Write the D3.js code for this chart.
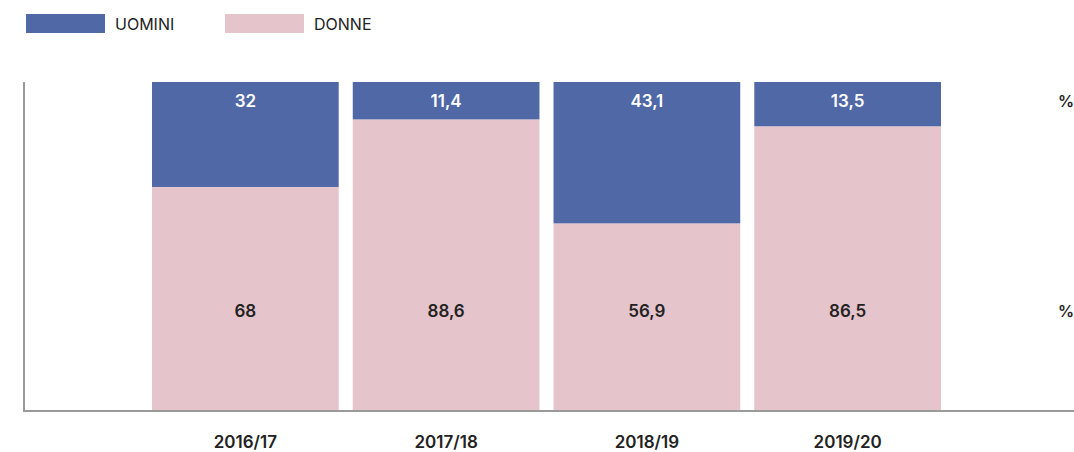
<!DOCTYPE html>
<html>
<head>
<meta charset="utf-8">
<script src="https://cdn.jsdelivr.net/npm/d3@7"></script>
<style>
html,body{margin:0;padding:0;background:#fff;}
svg{display:block;font-family:Inter,"Noto Sans",sans-serif;}
</style>
</head>
<body>
<svg id="chart" width="1074" height="452"></svg>
<script>
const categories = ["2016/17","2017/18","2018/19","2019/20"];
const uomini = [32, 11.4, 43.1, 13.5];
const donne = [68, 88.6, 56.9, 86.5];
const seriesNames = ["UOMINI","DONNE"];
const colors = ["#5068a6","#e5c4cc"];

const svg = d3.select("#chart");
const fmt = v => String(v).replace(".", ",");

const x = d3.scaleBand().domain(categories).range([152, 941]).paddingInner(0.07).paddingOuter(0);
const y = d3.scaleLinear().domain([0, 100]).range([410, 82]);

const g = svg.append("g");
categories.forEach((c, i) => {
  g.append("rect").attr("x", x(c)).attr("width", x.bandwidth())
    .attr("y", y(donne[i])).attr("height", y(0) - y(donne[i])).attr("fill", colors[1]);
  g.append("rect").attr("x", x(c)).attr("width", x.bandwidth())
    .attr("y", y(100)).attr("height", y(donne[i]) - y(100)).attr("fill", colors[0]);
  g.append("text").attr("x", x(c) + x.bandwidth()/2).attr("y", 107)
    .attr("text-anchor","middle").attr("font-size",17).attr("font-weight",600)
    .attr("fill","#fff").text(fmt(uomini[i]));
  g.append("text").attr("x", x(c) + x.bandwidth()/2).attr("y", 317)
    .attr("text-anchor","middle").attr("font-size",17).attr("font-weight",600)
    .attr("fill","#222").text(fmt(donne[i]));
});

[107, 317].forEach(yy => svg.append("text").attr("x", 1066).attr("y", yy)
  .attr("text-anchor","middle").attr("font-size",16).attr("font-weight",600)
  .attr("fill","#222").text("%"));

svg.append("line").attr("x1",24).attr("x2",24).attr("y1",82).attr("y2",411)
  .attr("stroke","#9a9a9a").attr("stroke-width",2);
svg.append("line").attr("x1",23).attr("x2",1074).attr("y1",411).attr("y2",411)
  .attr("stroke","#9a9a9a").attr("stroke-width",2);

const xAxis = d3.axisBottom(x).tickSize(0).tickPadding(0);
const ax = svg.append("g").attr("transform","translate(0,436)").call(xAxis);
ax.select(".domain").remove();
ax.selectAll("text").attr("font-size",17).attr("font-weight",600)
  .attr("fill","#222").attr("font-family","Inter,'Noto Sans',sans-serif");

const legX = [26, 225];
seriesNames.forEach((n, i) => {
  svg.append("rect").attr("x", legX[i]).attr("y", 14).attr("width", 79).attr("height", 19).attr("fill", colors[i]);
  svg.append("text").attr("x", legX[i] + 89).attr("y", 30).attr("font-size", 16)
    .attr("fill","#222").text(n);
});
</script>
</body>
</html>
